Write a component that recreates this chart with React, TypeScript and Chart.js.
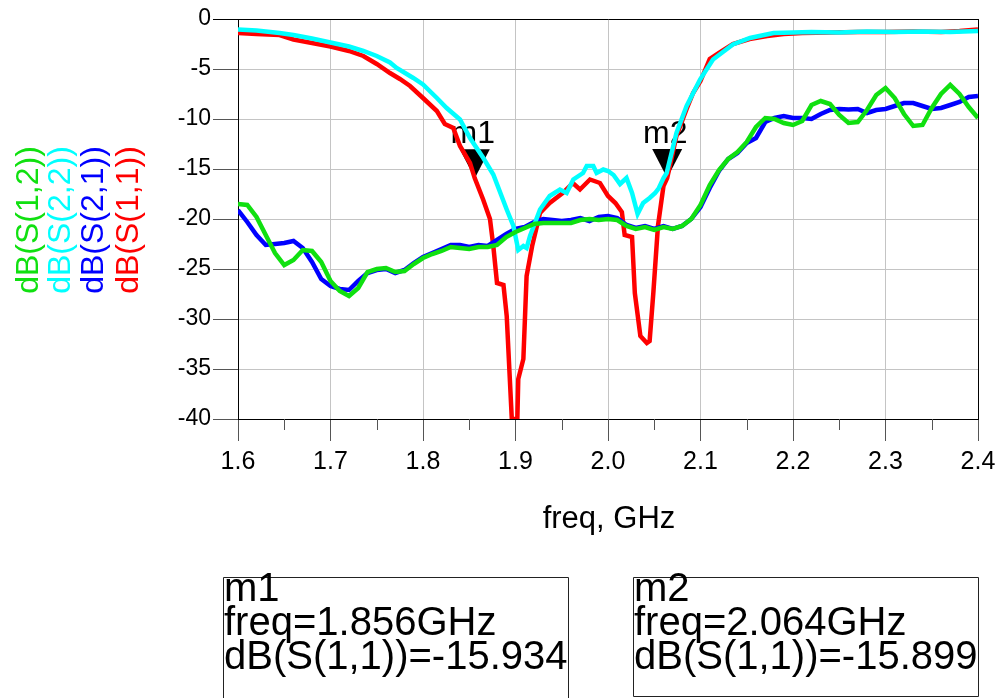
import React, { useEffect, useRef } from "react";
import { Chart, registerables } from "chart.js";

Chart.register(...registerables);

const FONT = "'Liberation Sans', Arial, Helvetica, sans-serif";

// Shared frequency grid (GHz) for S(2,1) and S(1,2)
const freqGrid = [
  1.60, 1.61, 1.62, 1.63, 1.64, 1.65, 1.66, 1.67, 1.68, 1.69,
  1.70, 1.71, 1.72, 1.73, 1.74, 1.75, 1.76, 1.77, 1.78, 1.79,
  1.80, 1.81, 1.82, 1.83, 1.84, 1.85, 1.86, 1.87, 1.88, 1.89,
  1.90, 1.91, 1.92, 1.93, 1.94, 1.95, 1.96, 1.97, 1.98, 1.99,
  2.00, 2.01, 2.02, 2.03, 2.04, 2.05, 2.06, 2.07, 2.08, 2.09,
  2.10, 2.11, 2.12, 2.13, 2.14, 2.15, 2.16, 2.17, 2.18, 2.19,
  2.20, 2.21, 2.22, 2.23, 2.24, 2.25, 2.26, 2.27, 2.28, 2.29,
  2.30, 2.31, 2.32, 2.33, 2.34, 2.35, 2.36, 2.37, 2.38, 2.39,
  2.40,
];

const s21 = [
  -19.1, -20.3, -21.6, -22.6, -22.5, -22.4, -22.2, -22.9, -24.3, -26.0,
  -26.7, -27.0, -27.1, -26.2, -25.4, -25.1, -25.0, -25.4, -25.1, -24.4,
  -23.8, -23.4, -23.0, -22.6, -22.6, -22.8, -22.6, -22.7, -22.1, -21.5,
  -21.0, -20.8, -20.3, -20.0, -20.1, -20.2, -20.1, -19.9, -20.2, -19.8,
  -19.7, -19.9, -20.6, -20.9, -20.7, -21.0, -20.7, -21.0, -20.7, -20.0,
  -18.8, -16.9, -15.2, -14.0, -13.4, -12.4, -11.9, -10.3, -9.9, -9.7,
  -9.9, -9.9, -10.0, -9.5, -9.1, -9.0, -9.05, -9.0, -9.4, -9.1,
  -9.0, -8.7, -8.4, -8.4, -8.7, -9.0, -8.9, -8.6, -8.3, -7.8,
  -7.7,
];

const s12 = [
  -18.5, -18.6, -19.8, -21.6, -23.4, -24.6, -24.1, -23.1, -23.2, -24.3,
  -26.2, -27.2, -27.7, -26.9, -25.3, -25.0, -24.9, -25.3, -25.2, -24.5,
  -23.9, -23.5, -23.2, -22.8, -22.9, -23.0, -22.8, -22.8, -22.6, -21.8,
  -21.3, -20.9, -20.5, -20.4, -20.4, -20.4, -20.4, -20.1, -20.0, -20.1,
  -20.0, -20.1, -20.7, -21.0, -20.8, -21.1, -20.8, -21.0, -20.7, -20.0,
  -18.6, -16.6, -15.1, -14.0, -13.3, -12.3, -10.8, -9.9, -10.0, -10.4,
  -10.6, -10.2, -8.6, -8.2, -8.5, -9.6, -10.4, -10.3, -9.1, -7.6,
  -6.9, -7.9, -9.5, -10.7, -10.6, -8.9, -7.5, -6.6, -7.5, -8.8,
  -9.9,
];

const freqS22 = [
  1.60, 1.62, 1.645, 1.66, 1.68, 1.70, 1.72, 1.7355, 1.75, 1.7643,
  1.7715, 1.7895, 1.80, 1.815, 1.8256, 1.84, 1.8508, 1.8652, 1.876, 1.8905,
  1.8977, 1.903, 1.9085, 1.912, 1.9157, 1.9265, 1.937, 1.948, 1.9553, 1.9625,
  1.973, 1.977, 1.9841, 1.9877, 1.9949, 2.0, 2.006, 2.013, 2.02, 2.026,
  2.032, 2.038, 2.045, 2.051, 2.055, 2.06, 2.0634, 2.074, 2.085, 2.0995,
  2.1135, 2.135, 2.1535, 2.179, 2.20, 2.22, 2.25, 2.28, 2.31, 2.34,
  2.37, 2.40,
];

const s22 = [
  -1.05, -1.15, -1.4, -1.6, -1.95, -2.35, -2.75, -3.2, -3.7, -4.35,
  -4.9, -5.9, -6.55, -7.9, -8.9, -10.05, -11.9, -13.9, -15.55, -19.05,
  -20.7, -23.1, -22.7, -22.9, -21.7, -19.05, -17.7, -17.05, -17.4, -16.05,
  -15.4, -14.7, -14.7, -15.4, -15.05, -15.2, -15.6, -16.5, -15.9, -17.4,
  -19.5, -18.4, -17.9, -17.4, -16.9, -15.9, -15.4, -11.4, -8.7, -6.05,
  -4.05, -2.55, -1.9, -1.4, -1.35, -1.3, -1.35, -1.25, -1.3, -1.25,
  -1.3, -1.2,
];

const freqS11 = [
  1.60, 1.62, 1.645, 1.66, 1.68, 1.70, 1.72, 1.7355, 1.75, 1.7643,
  1.775, 1.786, 1.80, 1.815, 1.8236, 1.8327, 1.84, 1.8508, 1.856, 1.865,
  1.8724, 1.876, 1.880, 1.887, 1.8905, 1.896, 1.902, 1.903, 1.9085, 1.912,
  1.918, 1.9265, 1.937, 1.951, 1.962, 1.9697, 1.9805, 1.9913, 2.0, 2.008,
  2.015, 2.018, 2.026, 2.029, 2.035, 2.042, 2.045, 2.049, 2.054, 2.06,
  2.064, 2.074, 2.085, 2.092, 2.10, 2.11, 2.12, 2.135, 2.153, 2.172,
  2.19, 2.21, 2.24, 2.27, 2.30, 2.33, 2.36, 2.38, 2.40,
];

const s11 = [
  -1.4, -1.5, -1.6, -2.05, -2.4, -2.75, -3.2, -3.7, -4.5, -5.4,
  -6.0, -6.7, -7.9, -9.2, -10.5, -10.9, -12.7, -14.4, -15.93, -18.05,
  -20.0, -22.7, -26.4, -26.6, -29.7, -40, -40, -36, -34, -25.7,
  -22.7, -19.4, -18.4, -17.4, -16.4, -17.05, -16.05, -16.4, -17.7, -18.4,
  -19.3, -21.6, -21.8, -27.4, -31.7, -32.4, -32.2, -27.4, -20.7, -16.7,
  -15.9, -11.7, -9.0, -7.4, -6.2, -4.0, -3.4, -2.5, -2.0, -1.7,
  -1.5, -1.4, -1.35, -1.3, -1.3, -1.25, -1.3, -1.2, -1.05,
];

const seriesLabels = ["dB(S(1,2))", "dB(S(2,2))", "dB(S(2,1))", "dB(S(1,1))"];
const seriesColors = ["#10e010", "#00ffff", "#0000ff", "#ff0000"];

const xMinorTicks = [1.65, 1.75, 1.85, 1.95, 2.05, 2.15, 2.25, 2.35];

const markerNames = ["m1", "m2"];
const markerFreqs = [1.856, 2.064];
const markerValues = [-15.934, -15.899];
const markerBoxLines = [
  ["m1", "freq=1.856GHz", "dB(S(1,1))=-15.934"],
  ["m2", "freq=2.064GHz", "dB(S(1,1))=-15.899"],
];
const xTitle = "freq, GHz";

const pts = (xs: number[], ys: number[]) => xs.map((x, i) => ({ x, y: ys[i] }));

const markerPlugin = {
  id: "markers",
  beforeDatasetsDraw(chart: any) {
    const ctx = chart.ctx;
    const xs = chart.scales.x;
    const ys = chart.scales.y;
    ctx.save();
    markerNames.forEach((name, i) => {
      const tx = xs.getPixelForValue(markerFreqs[i]);
      const ty = ys.getPixelForValue(markerValues[i]);
      ctx.fillStyle = "#000";
      ctx.beginPath();
      ctx.moveTo(tx - 15, ty - 29);
      ctx.lineTo(tx + 15, ty - 29);
      ctx.lineTo(tx, ty);
      ctx.closePath();
      ctx.fill();
      ctx.font = `32px ${FONT}`;
      ctx.textAlign = "center";
      ctx.textBaseline = "alphabetic";
      ctx.fillText(name, tx - 2, ty - 35);
    });
    ctx.restore();
  },
  afterDraw(chart: any) {
    const ctx = chart.ctx;
    const xs = chart.scales.x;
    const area = chart.chartArea;
    ctx.save();
    // minor x ticks
    ctx.strokeStyle = "#555";
    ctx.lineWidth = 1;
    xMinorTicks.forEach((v) => {
      const px = Math.round(xs.getPixelForValue(v)) + 0.5;
      ctx.beginPath();
      ctx.moveTo(px, area.bottom);
      ctx.lineTo(px, area.bottom + 11);
      ctx.stroke();
    });
    // rotated legend on the left
    ctx.font = `32px ${FONT}`;
    ctx.textAlign = "center";
    ctx.textBaseline = "middle";
    const cy = (area.top + area.bottom) / 2 + 1;
    const cols = [29, 61, 94, 129];
    seriesLabels.forEach((lab, i) => {
      ctx.save();
      ctx.translate(cols[i], cy);
      ctx.rotate(-Math.PI / 2);
      ctx.fillStyle = seriesColors[i];
      ctx.fillText(lab, 0, 0);
      ctx.restore();
    });
    // x title
    ctx.fillStyle = "#000";
    ctx.font = `31px ${FONT}`;
    ctx.textAlign = "center";
    ctx.textBaseline = "alphabetic";
    ctx.fillText(xTitle, (area.left + area.right) / 2 + 1, 528);
    // marker readout boxes
    const boxLefts = [223.5, 633.5];
    const boxBottoms = [720, 696.5];
    ctx.strokeStyle = "#222";
    ctx.lineWidth = 1;
    markerBoxLines.forEach((lines, i) => {
      const l = boxLefts[i];
      ctx.beginPath();
      ctx.rect(l, 577.5, 345, boxBottoms[i] - 577.5);
      ctx.stroke();
      ctx.font = `40px ${FONT}`;
      ctx.textAlign = "left";
      ctx.fillStyle = "#000";
      lines.forEach((t, j) => {
        ctx.fillText(t, l + 0.5, 601 + j * 34);
      });
    });
    ctx.restore();
  },
};

export default function App() {
  const ref = useRef<HTMLCanvasElement | null>(null);
  useEffect(() => {
    if (!ref.current) return;
    const chart = new Chart(ref.current, {
      type: "line",
      data: {
        datasets: [
          { label: seriesLabels[0], data: pts(freqGrid, s12), borderColor: seriesColors[0] },
          { label: seriesLabels[1], data: pts(freqS22, s22), borderColor: seriesColors[1] },
          { label: seriesLabels[2], data: pts(freqGrid, s21), borderColor: seriesColors[2] },
          { label: seriesLabels[3], data: pts(freqS11, s11), borderColor: seriesColors[3] },
        ].map((d) => ({ ...d, borderWidth: 4.5, pointRadius: 0, tension: 0, fill: false })),
      },
      options: {
        responsive: false,
        animation: false,
        devicePixelRatio: 1,
        layout: { padding: { left: 0, top: 19, right: 19, bottom: 0 } },
        plugins: { legend: { display: false }, tooltip: { enabled: false } },
        scales: {
          x: {
            type: "linear",
            min: 1.6,
            max: 2.4,
            afterFit: (s: any) => {
              s.height = 279;
              s.paddingLeft = 0;
              s.paddingRight = 0;
            },
            ticks: {
              stepSize: 0.1,
              maxRotation: 0,
              autoSkip: false,
              padding: 6,
              color: "#000",
              font: { family: FONT, size: 25 },
              callback: (v: any) => Number(v).toFixed(1),
            },
            grid: {
              color: (c: any) => (c.tick && Math.abs(c.tick.value - 2.4) < 1e-6 ? "#000" : "#c4c4c4"),
              tickColor: "#555",
              tickLength: 22,
              lineWidth: 1,
            },
            border: { color: "#000", width: 1 },
          },
          y: {
            min: -40,
            max: 0,
            afterFit: (s: any) => {
              s.width = 238;
              s.paddingTop = 0;
              s.paddingBottom = 0;
            },
            ticks: {
              stepSize: 5,
              padding: 2,
              color: "#000",
              font: { family: FONT, size: 23 },
              callback: (v: any) => String(v),
            },
            grid: {
              color: (c: any) => (c.tick && c.tick.value === 0 ? "#000" : "#c4c4c4"),
              tickColor: (c: any) => (c.tick && c.tick.value === 0 ? "#000" : "#555"),
              tickLength: 25,
              lineWidth: 1,
            },
            border: { color: "#000", width: 1 },
          },
        },
      },
      plugins: [markerPlugin],
    } as any);
    return () => chart.destroy();
  }, []);
  return (
    <div style={{ position: "absolute", left: 0, top: 0, width: 997, height: 698, background: "#fff" }}>
      <canvas ref={ref} width={997} height={698} />
    </div>
  );
}
